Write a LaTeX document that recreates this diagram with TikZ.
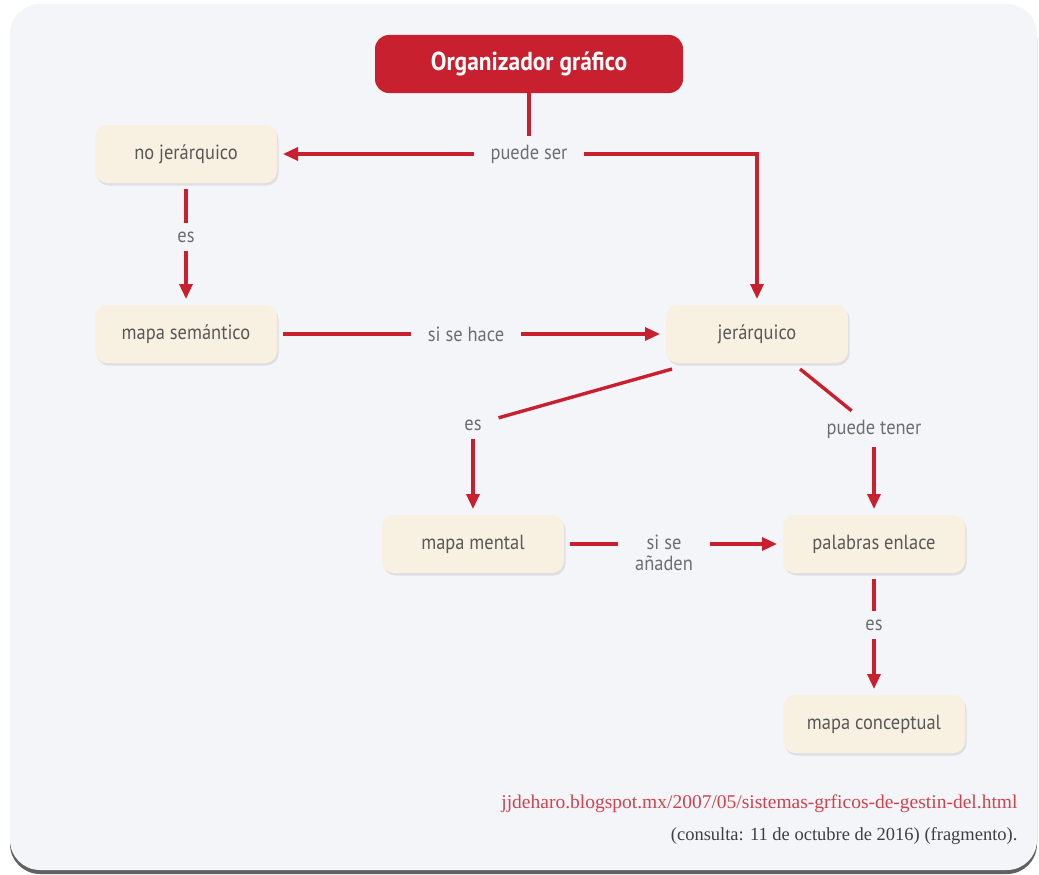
\documentclass[tikz,border=0pt]{standalone}
\usepackage{fontspec}
\setmainfont{PT Sans}
\newfontfamily\boxfont[FakeStretch=0.9]{PT Sans}
\newfontfamily\citefont{Liberation Serif}
\usetikzlibrary{arrows.meta, shadows}

\definecolor{orgred}{HTML}{C8202E}
\definecolor{cream}{HTML}{F8F0E1}
\definecolor{panel}{HTML}{F4F5F8}
\definecolor{boxtext}{HTML}{585858}
\definecolor{linktext}{HTML}{6E6E6E}

\tikzset{
  concept/.style={rounded corners=12pt, fill=cream, minimum width=182pt, minimum height=58pt,
    outer sep=6pt, text=boxtext, font=\boxfont\fontsize{20.5}{24}\selectfont,
    drop shadow={opacity=0.18, shadow xshift=1.5pt, shadow yshift=-2.5pt}},
  linkword/.style={inner xsep=17pt, inner ysep=9pt, outer sep=0pt, text=linktext,
    align=center, font=\boxfont\fontsize{20.5}{24}\selectfont},
  link/.style={draw=orgred, line width=3.4pt},
  linkarrow/.style={link, -{Triangle[length=15pt,width=13pt]}}
}

\begin{document}
\begin{tikzpicture}[x=1pt,y=-1pt]
            \useasboundingbox (0,0) rectangle (1039,875);

            % panel
            \fill[gray!75!black, rounded corners=30pt] (10,8) rectangle (1037,874);
            \fill[panel, rounded corners=30pt] (10,4) rectangle (1037,870);

            % title
            \node[rounded corners=14pt, fill=orgred, minimum width=308pt, minimum height=58pt,
                  text=white, font=\boxfont\bfseries\fontsize{26}{30}\selectfont] (org) at (529,64) {Organizador gráfico};

            % concepts
            \node[concept] (nojer) at (186,154) {no jerárquico};
            \node[concept] (sem) at (186,334) {mapa semántico};
            \node[concept] (jer) at (757,334) {jerárquico};
            \node[concept] (mental) at (473,544) {mapa mental};
            \node[concept] (enlace) at (874,544) {palabras enlace};
            \node[concept] (concep) at (874,724) {mapa conceptual};

            % linking words
            \node[linkword] (puedeser) at (529,154) {puede ser};
            \node[linkword] (es1) at (186,237) {es};
            \node[linkword] (sihace) at (466,334) {si se hace};
            \node[linkword] (es2) at (473,425) {es};
            \node[linkword] (tener) at (874,429) {puede tener};
            \node[linkword, inner ysep=2pt] (anaden) at (664,553) {si se\\[-3pt]añaden};
            \node[linkword] (es3) at (874,625) {es};

            % connectors
            \draw[link] (org) -- (puedeser);
            \draw[linkarrow] (puedeser) -- (nojer);
            \draw[linkarrow] (puedeser.east) -| (jer.north);

            \draw[link] (nojer) -- (es1);
            \draw[linkarrow] (es1) -- (sem);

            \draw[link] (sem) -- (sihace);
            \draw[linkarrow] (sihace) -- (jer);

            \draw[link] ([xshift=12pt]jer.south west) -- (es2);
            \draw[linkarrow] (es2) -- (mental);

            \draw[link] (jer) -- (tener);
            \draw[linkarrow] (tener) -- (enlace);

            \draw[link] (mental.east) -- (mental.east -| anaden.west);
            \draw[linkarrow] (mental.east -| anaden.east) -- (enlace.west);

            \draw[link] (enlace) -- (es3);
            \draw[linkarrow] (es3) -- (concep);

            % source
            \node[anchor=east, text=orgred!85, font=\citefont\fontsize{19.5}{23}\selectfont] (url) at (1021,804)
                {jjdeharo.blogspot.mx/2007/05/sistemas-grficos-de-gestin-del.html};
            \node[anchor=east, text=black!75, font=\citefont\fontsize{18.5}{22}\selectfont] (consulta) at (1021,836)
                {(consulta: 11 de octubre de 2016) (fragmento).};
        \end{tikzpicture}
\end{document}
